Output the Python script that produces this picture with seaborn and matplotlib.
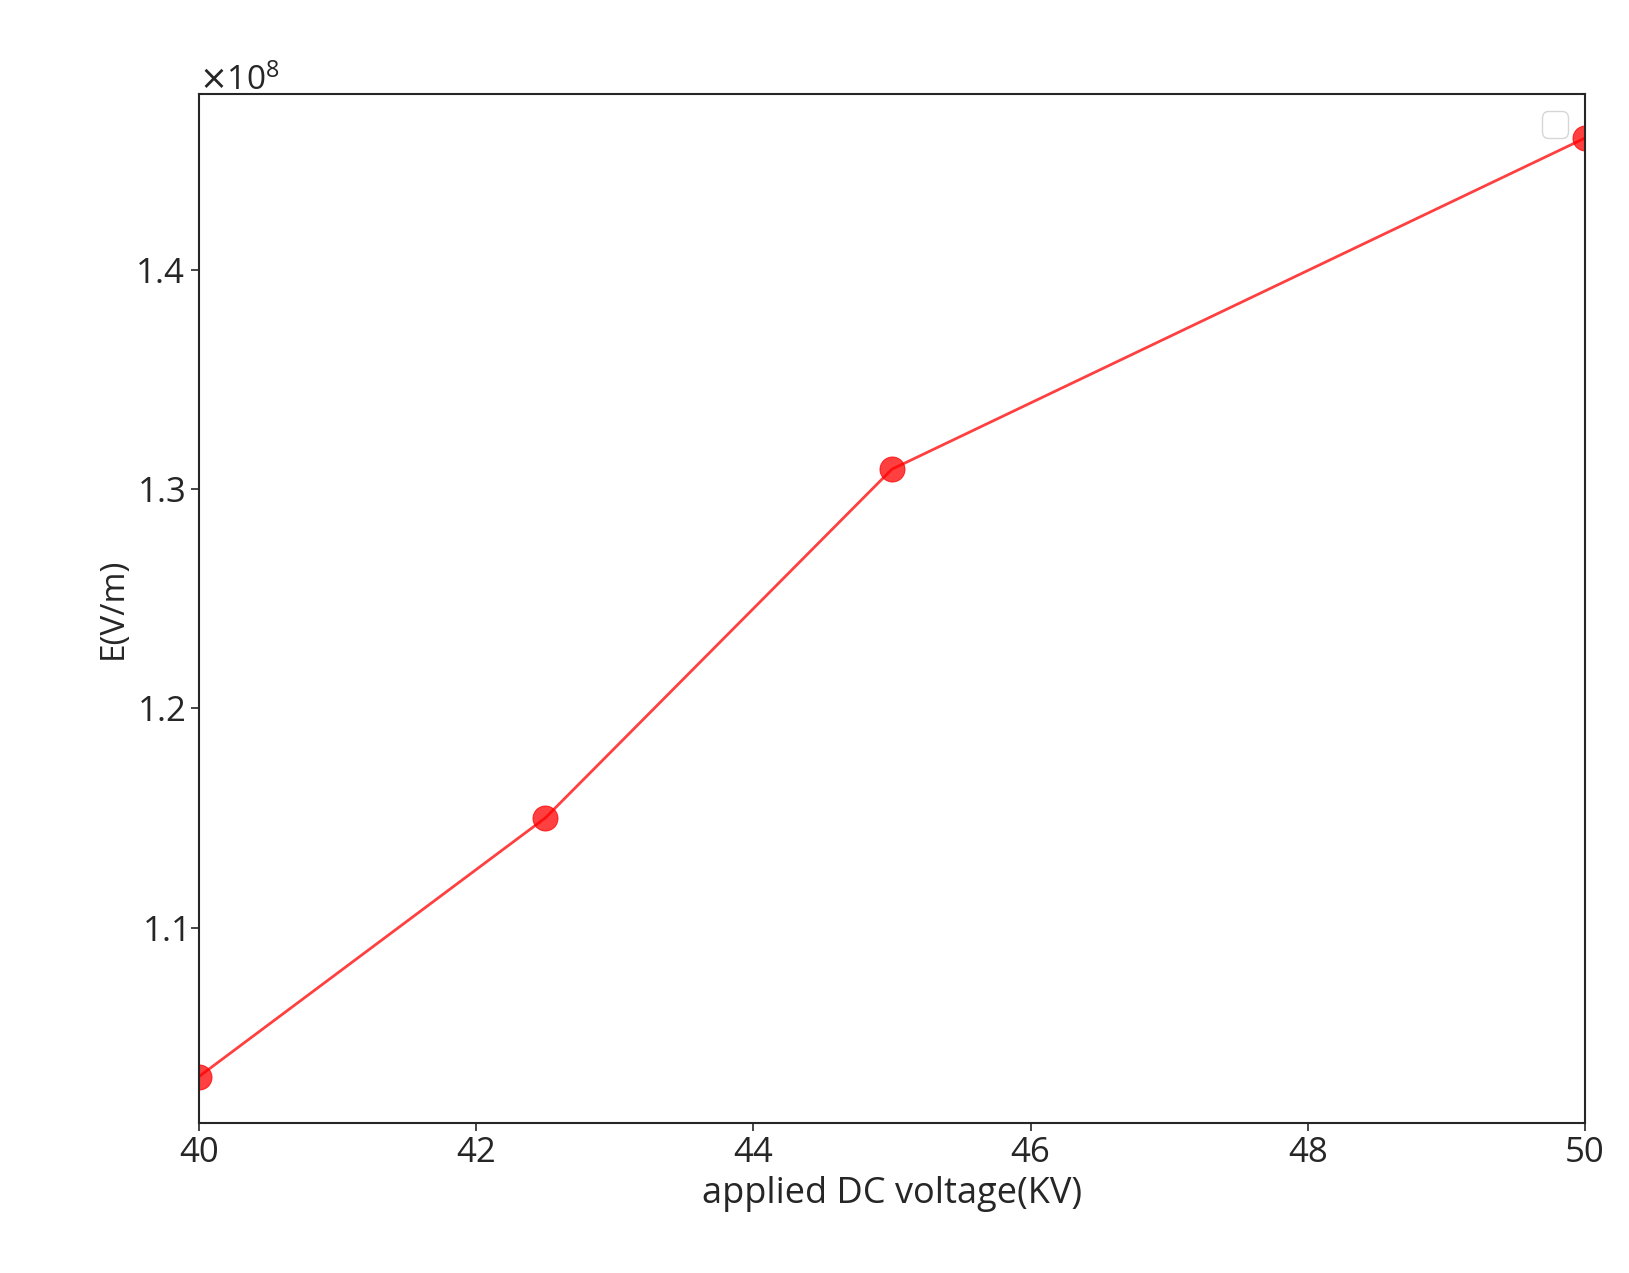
import numpy as np
import pandas as pd
import seaborn as sns
import matplotlib
matplotlib.use("Agg")
import matplotlib.pyplot as plt

voltage = [40, 42.5, 45, 50]
field = [1.032e8, 1.150e8, 1.309e8, 1.460e8]

df = pd.DataFrame({"voltage": voltage, "field": field})

sns.set_style("ticks")
plt.rcParams['font.family'] = ['Open Sans', 'DejaVu Sans']

fig = plt.figure(figsize=(16.29, 12.73), dpi=100)
ax = fig.add_axes([0.122, 0.118, 0.851, 0.808])

sns.lineplot(data=df, x="voltage", y="field", color="red", alpha=0.75,
             marker="o", markersize=18, markeredgecolor="red", linewidth=2, ax=ax)

ax.set_xlim(40, 50)
ax.set_ylim(1.011e8, 1.48e8)
ax.set_xticks([40, 42, 44, 46, 48, 50])
ax.set_yticks([1.1e8, 1.2e8, 1.3e8, 1.4e8])
ax.ticklabel_format(axis="y", style="sci", scilimits=(0, 0), useMathText=True)
ax.yaxis.get_offset_text().set_fontsize(24)
ax.tick_params(labelsize=25, length=6, width=1.2)
for s in ax.spines.values():
    s.set_linewidth(1.5)
    s.set_visible(True)
ax.set_xlabel("applied DC voltage(KV)", fontsize=26)
ax.set_ylabel("E(V/m)", fontsize=24)
ax.legend(loc="upper right", fontsize=24)

fig.savefig("out.png", dpi=100)
